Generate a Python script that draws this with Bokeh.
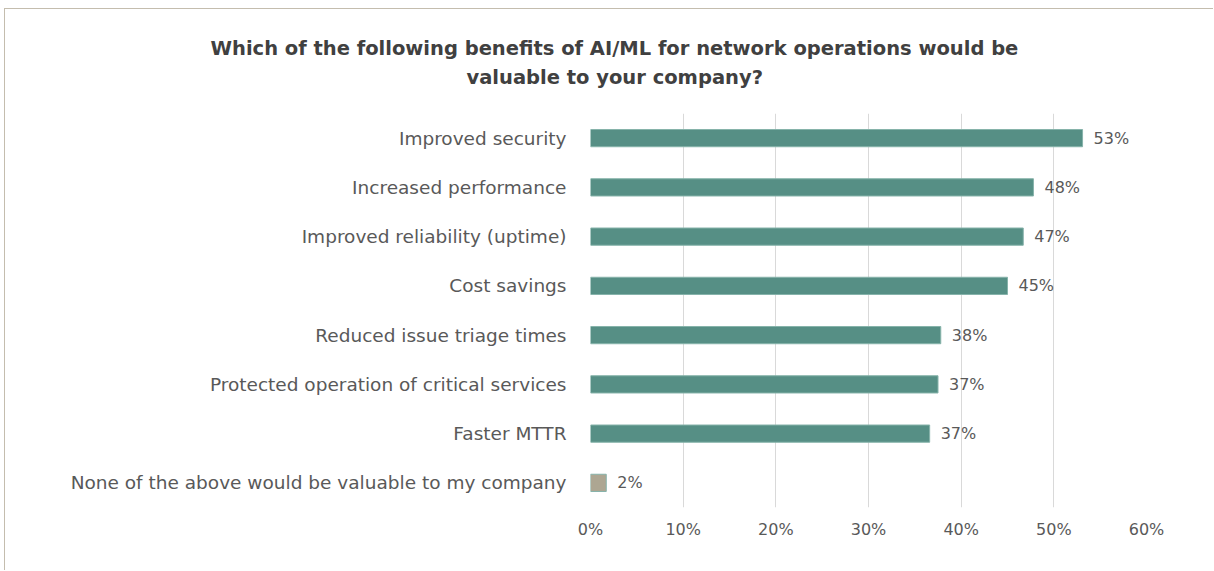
from bokeh.plotting import figure
from bokeh.models import ColumnDataSource, Title, FixedTicker, CustomJSTickFormatter
from bokeh.core.properties import value
from bokeh.embed import file_html
from bokeh.resources import INLINE

categories = [
    "Improved security",
    "Increased performance",
    "Improved reliability (uptime)",
    "Cost savings",
    "Reduced issue triage times",
    "Protected operation of critical services",
    "Faster MTTR",
    "None of the above would be valuable to my company",
]
values = [53.1, 47.8, 46.7, 45.0, 37.8, 37.5, 36.6, 1.7]
labels = ["53%", "48%", "47%", "45%", "38%", "37%", "37%", "2%"]
colors = ["#568f85"] * 7 + ["#ada692"]
x_ticks = [0, 10, 20, 30, 40, 50, 60]
title_lines = [
    "Which of the following benefits of AI/ML for network operations would be",
    "valuable to your company?",
]

FONT = "DejaVu Sans"
W, H = 1209, 562
MB_L, MB_R, MB_T, MB_B = 585, 68, 104, 64

src = ColumnDataSource(dict(cat=categories, val=values, lab=labels, col=colors))

p = figure(
    width=W, height=H,
    y_range=list(reversed(categories)),
    x_range=(0, 60),
    output_backend="svg", toolbar_location=None,
    min_border_left=MB_L, min_border_right=MB_R,
    min_border_top=MB_T, min_border_bottom=MB_B,
)
p.styles = {"border-top": "1px solid #c4bdae", "border-left": "1px solid #c4bdae",
            "margin-left": "4px", "margin-top": "8px"}
p.outline_line_color = None
p.background_fill_color = "white"

p.hbar(y="cat", right="val", left=0, height=0.35, fill_color="col",
       line_color="#86b3aa", line_width=1, source=src)
p.text(x="val", y="cat", text="lab", source=src, x_offset=11,
       text_baseline="middle", text_align="left",
       text_font=value(FONT), text_font_size="16px", text_color="#595959")

p.xgrid.grid_line_color = "#d9d9d9"
p.xgrid.grid_line_width = 1
p.ygrid.grid_line_color = None

p.xaxis.ticker = FixedTicker(ticks=x_ticks)
p.xaxis.formatter = CustomJSTickFormatter(code="return tick + '%';")
p.xaxis.axis_line_color = None
p.xaxis.major_tick_line_color = None
p.xaxis.minor_tick_line_color = None
p.xaxis.major_label_standoff = 6
p.xaxis.major_label_text_font = FONT
p.xaxis.major_label_text_font_size = "16px"
p.xaxis.major_label_text_color = "#595959"

p.yaxis.axis_line_color = None
p.yaxis.major_tick_line_color = None
p.yaxis.minor_tick_line_color = None
p.yaxis.major_label_standoff = 18
p.yaxis.major_label_text_font = FONT
p.yaxis.major_label_text_font_size = "18.5px"
p.yaxis.major_label_text_color = "#595959"

# spacer between the frame and the title (closest panel to the frame)
p.add_layout(Title(text=" ", text_font_size="10px", standoff=9), "above")
# Title: two lines, the later-added one sits further from the frame
starts = [210, 466]
for i in (1, 0):
    p.add_layout(Title(text=title_lines[i], align="left", offset=starts[i] - 590,
                       text_font=FONT, text_font_style="bold", text_font_size="19.5px",
                       text_color="#404040", standoff=5 if i == 1 else 4), "above")

open("out.html", "w").write(file_html(p, INLINE))
